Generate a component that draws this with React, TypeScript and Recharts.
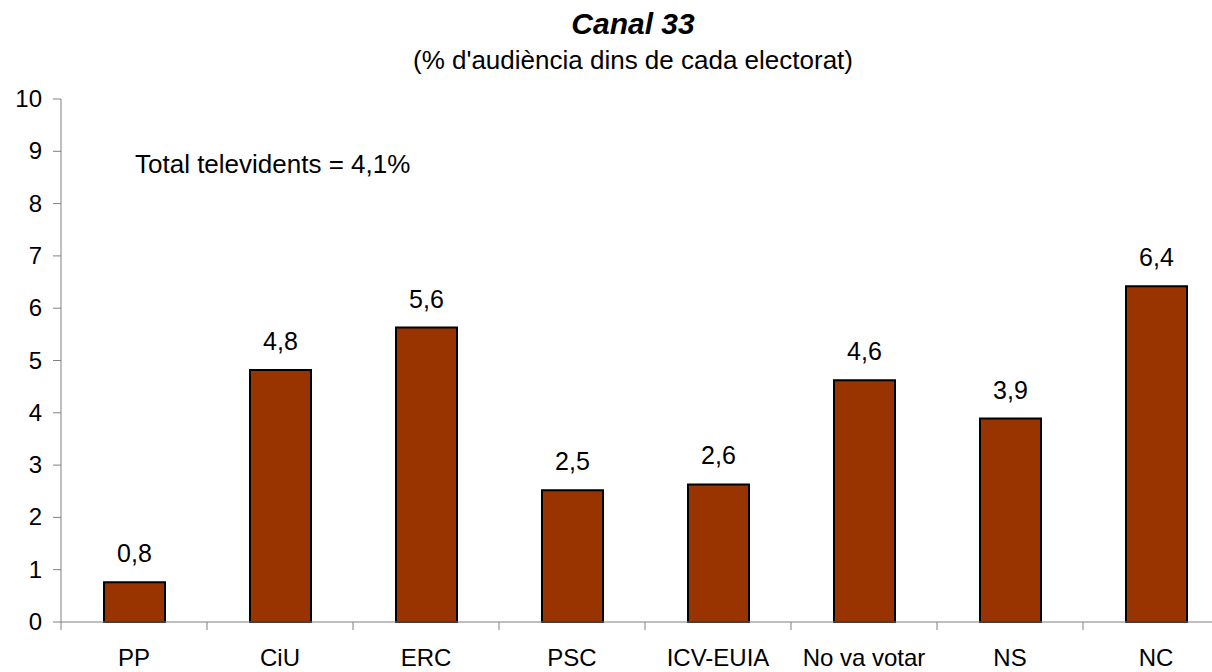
import { Bar, BarChart, XAxis, YAxis, LabelList } from "recharts"

const categories = ["PP", "CiU", "ERC", "PSC", "ICV-EUIA", "No va votar", "NS", "NC"]
const audience = [0.76, 4.82, 5.63, 2.52, 2.63, 4.62, 3.89, 6.42]
const yTicks = [0, 1, 2, 3, 4, 5, 6, 7, 8, 9, 10]

const data = categories.map((name, i) => ({ name, value: audience[i] }))

const font = "'Liberation Sans', Arial, sans-serif"

// x-axis tick: category label plus a tick mark on the left band boundary
function CategoryTick(props: any) {
  const { x, y, payload, width } = props
  const band = width / categories.length
  const left = x - band / 2
  return (
    <g>
      <line x1={left} y1={y - 8} x2={left} y2={y} stroke="#808080" strokeWidth={1} />
      <text x={x} y={y + 36} textAnchor="middle" fontSize={24} fill="#000" fontFamily={font}>
        {payload.value}
      </text>
    </g>
  )
}

function ValueTick(props: any) {
  const { x, y, payload } = props
  return (
    <text x={x} y={y + 8} textAnchor="end" fontSize={24} fill="#000" fontFamily={font}>
      {payload.value}
    </text>
  )
}

export default function App() {
  return (
    <div style={{ position: "absolute", left: 0, top: 0, width: 1212, height: 672, overflow: "hidden", background: "#fff" }}>
      <div style={{ position: "absolute", left: 0, top: 0 }}>
        <BarChart width={1229} height={672} data={data} margin={{ top: 99, right: 0, left: 0, bottom: 0 }}>
          <XAxis
            dataKey="name"
            height={50}
            tickLine={false}
            tickSize={8}
            tickMargin={0}
            axisLine={{ stroke: "#808080" }}
            tick={<CategoryTick />}
            interval={0}
          />
          <YAxis
            width={61}
            domain={[0, 10]}
            ticks={yTicks}
            interval={0}
            tickSize={8}
            tickMargin={11}
            axisLine={{ stroke: "#808080" }}
            tickLine={{ stroke: "#808080" }}
            tick={<ValueTick />}
          />
          <Bar dataKey="value" fill="#993300" stroke="#000" strokeWidth={2} barSize={61} isAnimationActive={false}>
            <LabelList
              dataKey="value"
              position="top"
              offset={20}
              fontSize={25}
              fill="#000"
              fontFamily={font}
              formatter={(v: any) => Number(v).toFixed(1).replace(".", ",")}
            />
          </Bar>
        </BarChart>
      </div>
      <svg width={1212} height={672} style={{ position: "absolute", left: 0, top: 0, pointerEvents: "none" }}>
        <text x={633} y={34} textAnchor="middle" fontSize={30} fontWeight="bold" fontStyle="italic" fontFamily={font} fill="#000">
          Canal 33
        </text>
        <text x={633} y={69} textAnchor="middle" fontSize={26} fontFamily={font} fill="#000">
          (% d'audiència dins de cada electorat)
        </text>
        <text x={135} y={173} fontSize={26} fontFamily={font} fill="#000">
          Total televidents = 4,1%
        </text>
      </svg>
    </div>
  )
}
